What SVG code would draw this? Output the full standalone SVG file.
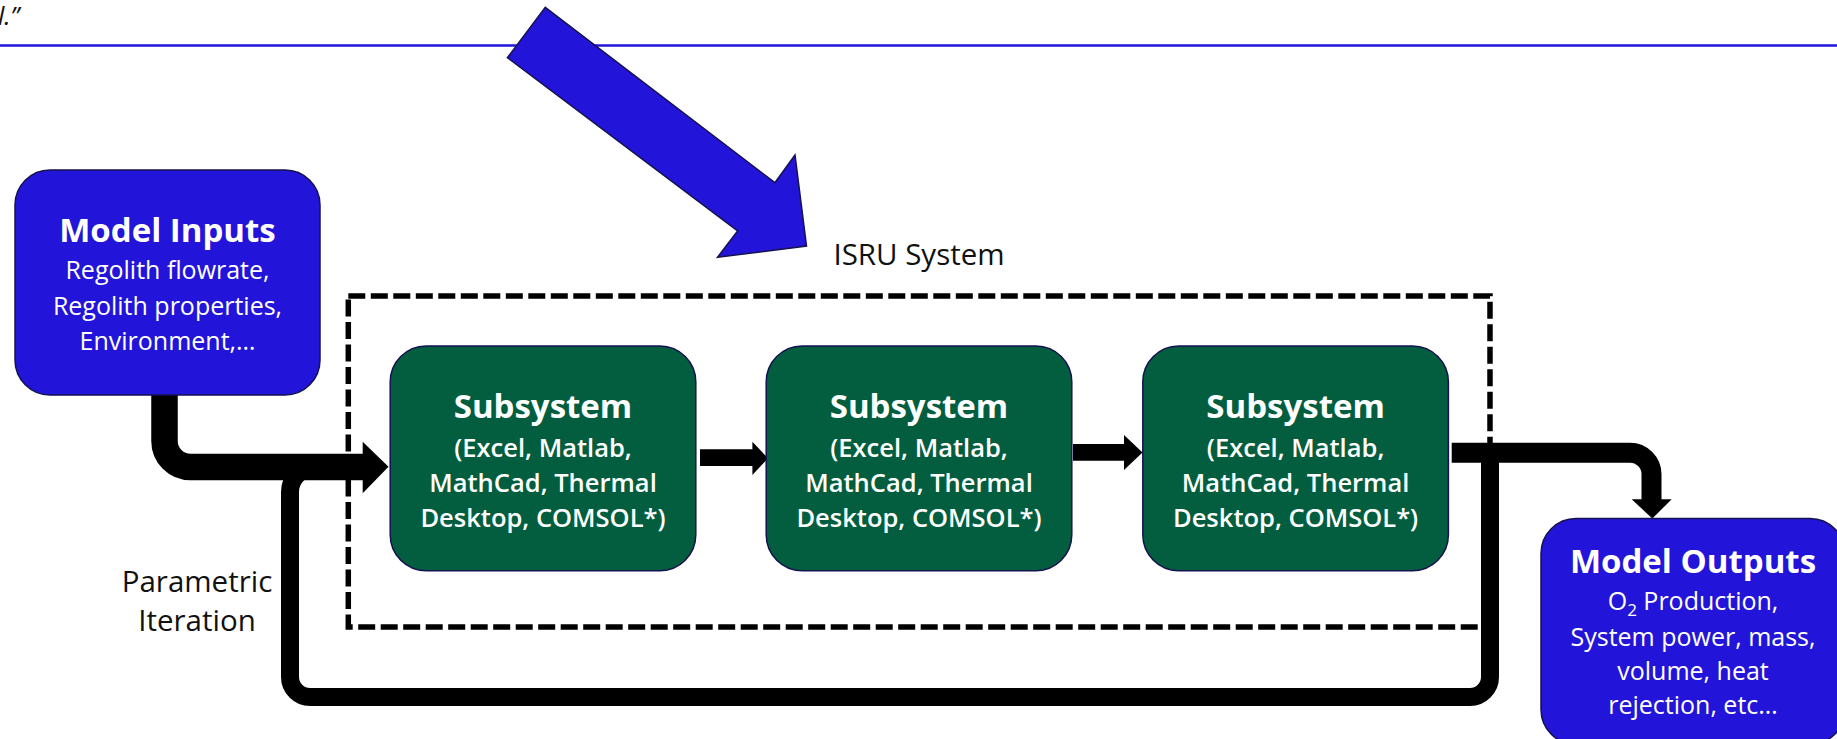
<svg xmlns="http://www.w3.org/2000/svg" width="1837" height="739" viewBox="0 0 1837 739">
  <style>
    .txt { font-family: "Open Sans", "Noto Sans", "Liberation Sans", sans-serif; }
    .blue { fill: #2314d9; stroke: #14124f; stroke-width: 1.5; }
    .green { fill: #035e40; stroke: #14124f; stroke-width: 1.5; }
    .title { font-family: "Open Sans", "Noto Sans", sans-serif; font-weight: 700; font-size: 33px; fill: #ffffff; text-anchor: middle; }
    .body { font-family: "Open Sans", "Noto Sans", sans-serif; font-size: 25px; fill: #ffffff; text-anchor: middle; }
    .bodyb { font-family: "Open Sans", "Noto Sans", sans-serif; font-weight: 600; font-size: 25.5px; fill: #ffffff; text-anchor: middle; }
    .label { font-family: "Open Sans", "Noto Sans", sans-serif; font-size: 29.5px; fill: #111111; text-anchor: middle; }
    .pipe { fill: none; stroke: #000000; }
  </style>

  <rect width="1837" height="739" fill="#ffffff"/>

  <!-- header remnant and rule -->
  <text class="txt" x="-2" y="25" font-size="25" font-style="italic" fill="#111111">l.”</text>
  <line x1="0" y1="45.5" x2="1837" y2="45.5" stroke="#2314d9" stroke-width="2.5"/>

  <!-- big pointer arrow -->
  <polygon class="blue" points="545.3,7.3 774.9,182.7 795,155 806.5,246 717.5,257.3 737.6,231 507.4,57.7"/>

  <!-- ISRU system boundary -->
  <g id="isru-system">
    <rect x="348.3" y="296" width="1141.7" height="331" fill="none" stroke="#000000" stroke-width="5.5" stroke-dasharray="17 5.5"/>
    <text class="label" x="919" y="265">ISRU System</text>
  </g>

  <!-- connectors -->
  <g id="connectors">
    <!-- parametric iteration loop -->
    <path class="pipe" stroke-width="18" d="M1490,452 V677 A20,20 0 0 1 1470,697 H310 A20,20 0 0 1 290,677 V492 A25,25 0 0 1 315,467"/>
    <!-- inputs to first subsystem -->
    <path class="pipe" stroke-width="26.5" d="M164.5,395 V441 A26,26 0 0 0 190.5,467 H364"/>
    <polygon points="362.7,441.7 388.5,466.7 362.7,493.3" fill="#000000"/>
    <!-- subsystem 1 to 2 -->
    <polygon points="700,449.3 752.4,449.3 752.4,441.7 768,458.3 752.4,475 752.4,466 700,466" fill="#000000"/>
    <!-- subsystem 2 to 3 -->
    <polygon points="1073,444 1124,444 1124,435 1142.5,452.5 1124,470 1124,460.7 1073,460.7" fill="#000000"/>
    <!-- last subsystem to outputs -->
    <path class="pipe" stroke-width="20" d="M1451.7,452.7 H1630 A21.5,21.5 0 0 1 1651.5,474.2 V500"/>
    <polygon points="1631.7,499.3 1671.7,499.3 1652.3,518.5" fill="#000000"/>
  </g>

  <g id="model-inputs">
    <rect class="blue" x="15" y="170" width="305" height="225" rx="35" ry="35"/>
    <text class="title" x="167.5" y="241.7">Model Inputs</text>
    <text class="body" x="167.5" y="279.3">Regolith flowrate,</text>
    <text class="body" x="167.5" y="315">Regolith properties,</text>
    <text class="body" x="167.5" y="350">Environment,…</text>
  </g>

  <g id="subsystem-1">
    <rect class="green" x="390.2" y="346" width="305.6" height="224.7" rx="36" ry="36"/>
    <text class="title" x="543" y="418.3">Subsystem</text>
    <text class="bodyb" x="543" y="456.7">(Excel, Matlab,</text>
    <text class="bodyb" x="543" y="491.7">MathCad, Thermal</text>
    <text class="bodyb" x="543" y="526.7">Desktop, COMSOL*)</text>
  </g>

  <g id="subsystem-2">
    <rect class="green" x="766.2" y="346" width="305.6" height="224.7" rx="36" ry="36"/>
    <text class="title" x="919" y="418.3">Subsystem</text>
    <text class="bodyb" x="919" y="456.7">(Excel, Matlab,</text>
    <text class="bodyb" x="919" y="491.7">MathCad, Thermal</text>
    <text class="bodyb" x="919" y="526.7">Desktop, COMSOL*)</text>
  </g>

  <g id="subsystem-3">
    <rect class="green" x="1142.8" y="346" width="305.6" height="224.7" rx="36" ry="36"/>
    <text class="title" x="1295.6" y="418.3">Subsystem</text>
    <text class="bodyb" x="1295.6" y="456.7">(Excel, Matlab,</text>
    <text class="bodyb" x="1295.6" y="491.7">MathCad, Thermal</text>
    <text class="bodyb" x="1295.6" y="526.7">Desktop, COMSOL*)</text>
  </g>

  <g id="model-outputs">
    <rect class="blue" x="1541" y="518.5" width="304" height="226" rx="35" ry="35"/>
    <text class="title" x="1693" y="572.7">Model Outputs</text>
    <text class="body" x="1693" y="610">O<tspan font-size="17" dy="6">2</tspan><tspan dy="-6"> Production,</tspan></text>
    <text class="body" x="1693" y="646">System power, mass,</text>
    <text class="body" x="1693" y="680">volume, heat</text>
    <text class="body" x="1693" y="714">rejection, etc…</text>
  </g>

  <g id="parametric-iteration">
    <text class="label" x="197" y="591.7">Parametric</text>
    <text class="label" x="197" y="630.7">Iteration</text>
  </g>
</svg>
